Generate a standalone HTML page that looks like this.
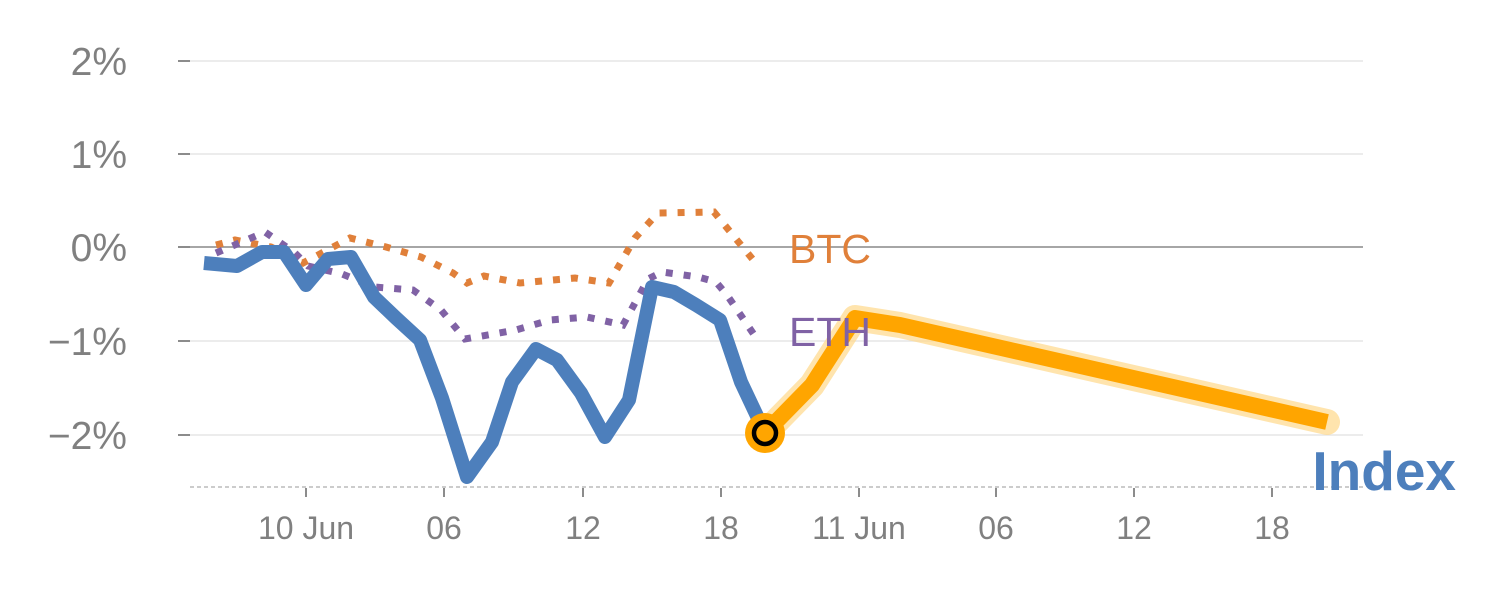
<!DOCTYPE html>
<html><head><meta charset="utf-8"><style>
html,body{margin:0;padding:0;background:#fff;}
svg{display:block;font-family:"Liberation Sans",sans-serif;}
</style></head><body>
<svg width="1500" height="600" viewBox="0 0 1500 600">
<g stroke="#e6e6e6" stroke-width="1.5">
<line x1="190" y1="61" x2="1363" y2="61"/>
<line x1="190" y1="154" x2="1363" y2="154"/>
<line x1="190" y1="341" x2="1363" y2="341"/>
<line x1="190" y1="435" x2="1363" y2="435"/>
</g>
<line x1="190" y1="247" x2="1363" y2="247" stroke="#888" stroke-width="1.5"/>
<g stroke="#666" stroke-width="1.5">
<line x1="178" y1="61" x2="190" y2="61"/>
<line x1="178" y1="154" x2="190" y2="154"/>
<line x1="178" y1="247" x2="190" y2="247"/>
<line x1="178" y1="341" x2="190" y2="341"/>
<line x1="178" y1="435" x2="190" y2="435"/>
<line x1="306" y1="488" x2="306" y2="497"/>
<line x1="444" y1="488" x2="444" y2="497"/>
<line x1="583" y1="488" x2="583" y2="497"/>
<line x1="721" y1="488" x2="721" y2="497"/>
<line x1="859" y1="488" x2="859" y2="497"/>
<line x1="996" y1="488" x2="996" y2="497"/>
<line x1="1134" y1="488" x2="1134" y2="497"/>
<line x1="1272" y1="488" x2="1272" y2="497"/>
</g>
<line x1="190" y1="487" x2="1363" y2="487" stroke="#ccc" stroke-width="2" stroke-dasharray="4,3"/>
<g fill="#808080" font-size="39" text-anchor="end">
<text x="127" y="75">2%</text>
<text x="127" y="168">1%</text>
<text x="127" y="261">0%</text>
<text x="127" y="355">−1%</text>
<text x="127" y="449">−2%</text>
</g>
<g fill="#808080" font-size="32" text-anchor="middle">
<text x="306" y="539">10 Jun</text>
<text x="444" y="539">06</text>
<text x="583" y="539">12</text>
<text x="721" y="539">18</text>
<text x="859" y="539">11 Jun</text>
<text x="996" y="539">06</text>
<text x="1134" y="539">12</text>
<text x="1272" y="539">18</text>
</g>
<polyline fill="none" stroke="#e0803a" stroke-width="7" stroke-dasharray="7,11" points="216,245 235,240 271,247 303,263 350,238 386,247 421,257 453,273 467,283 484,276 520,283 575,278 609,283 635,238 658,213 714,212 759,267"/>
<polyline fill="none" stroke="#8062a5" stroke-width="7" stroke-dasharray="7,11" points="216,253 265,232 295,253 308,266 342,274 374,287 413,290 441,310 465,339 516,330 550,320 587,317 623,325 648,279 662,272 698,277 716,282 727,295 759,342"/>
<polyline fill="none" stroke="#4d7fbc" stroke-width="14" stroke-linejoin="round" points="204,263 237,266 262,252 284,252 306,285 328,259 351,257 374,297 396,318 420,340 442,398 467,477 492,442 512,382 536,349 557,360 581,393 605,437 629,400 652,287 674,292 696,305 720,320 741,382 765,433"/>
<polyline fill="none" stroke="#ffd98a" stroke-width="26" stroke-linejoin="round" stroke-linecap="round" opacity="0.7" points="765,433 812,385 855,318 900,325 1327,422"/>
<polyline fill="none" stroke="#ffa500" stroke-width="16" stroke-linejoin="round" points="765,433 812,385 855,318 900,325 1327,422"/>
<circle cx="765" cy="433" r="20" fill="#ffa500"/>
<circle cx="765" cy="433" r="11" fill="#ffa500" stroke="#000" stroke-width="4.5"/>
<text x="789" y="263" fill="#e0803a" font-size="41">BTC</text>
<text x="789" y="346" fill="#8062a5" font-size="41">ETH</text>
<text x="1456" y="490" fill="#4d7fbc" font-size="55" font-weight="bold" text-anchor="end">Index</text>
</svg>
</body></html>
